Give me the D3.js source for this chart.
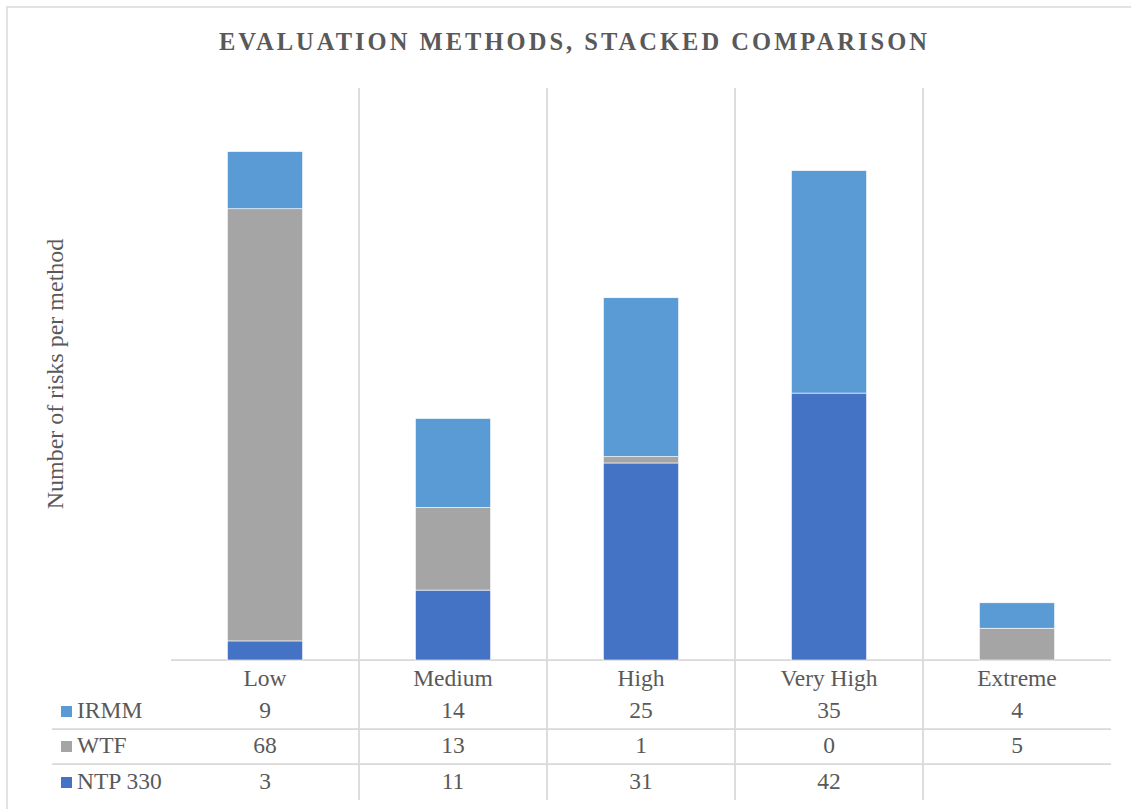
<!DOCTYPE html>
<html>
<head>
<meta charset="utf-8">
<script src="https://cdn.jsdelivr.net/npm/d3@7"></script>
<style>
  html, body { margin: 0; padding: 0; background: #fff; }
  svg { display: block; }
  svg text { font-family: 'Liberation Serif', 'Times New Roman', Times, 'DejaVu Serif', serif; fill: #595959; }
</style>
</head>
<body>
<svg id="chart" width="1131" height="809"></svg>
<script>
// Risk levels and the number of risks each evaluation method assigns to them
const categories = ["Low", "Medium", "High", "Very High", "Extreme"];
const seriesNames = ["NTP 330", "WTF", "IRMM"];          // stacking order, bottom to top
const ntp330 = [3, 11, 31, 42, null];
const wtf    = [68, 13, 1, 0, 5];
const irmm   = [9, 14, 25, 35, 4];
const tableRows = ["IRMM", "WTF", "NTP 330"];             // data-table order, top to bottom
const colors = { "IRMM": "#5B9BD5", "WTF": "#A5A5A5", "NTP 330": "#4472C4" };

const valuesBySeries = { "NTP 330": ntp330, "WTF": wtf, "IRMM": irmm };
const rows = categories.map((c, i) => {
  const r = { category: c };
  seriesNames.forEach(s => { r[s] = valuesBySeries[s][i] == null ? 0 : valuesBySeries[s][i]; });
  return r;
});

const FONT = "'Liberation Serif', 'Times New Roman', Times, 'DejaVu Serif', serif";
const FS = 23.5;
const svg = d3.select("#chart");
const W = 1131, H = 809;

// chart area frame
svg.append("rect")
  .attr("x", 7).attr("y", 7).attr("width", W + 10).attr("height", H + 10)
  .attr("fill", "#fff").attr("stroke", "#d9d9d9").attr("stroke-width", 1.5);

const plot = { left: 171, right: 1111, top: 88, bottom: 660 };
const tableLeft = 52;
const rowBase = [718, 753, 789];    // text baselines of the table rows
const rowLines = [729, 764];
const tableBottom = 800;

const x = d3.scaleBand()
  .domain(categories)
  .range([plot.left, plot.right])
  .paddingInner(0.6)
  .paddingOuter(0.3);
const step = x.step();

const y = d3.scaleLinear().domain([0, 90]).range([plot.bottom, plot.top]);

// vertical separators between categories, running through the data table
const bounds = categories.slice(1).map(c => x(c) - step * 0.3);
svg.append("g").selectAll("line").data(bounds).join("line")
  .attr("x1", d => d).attr("x2", d => d)
  .attr("y1", plot.top).attr("y2", tableBottom)
  .attr("stroke", "#d9d9d9").attr("stroke-width", 1.75);

// horizontal lines: axis baseline and table row rules
svg.append("line")
  .attr("x1", plot.left).attr("x2", plot.right)
  .attr("y1", plot.bottom).attr("y2", plot.bottom)
  .attr("stroke", "#d9d9d9").attr("stroke-width", 1.75);
svg.append("g").selectAll("line").data(rowLines).join("line")
  .attr("x1", tableLeft).attr("x2", plot.right)
  .attr("y1", d => d).attr("y2", d => d)
  .attr("stroke", "#d9d9d9").attr("stroke-width", 1.75);

// stacked bars
const stack = d3.stack().keys(seriesNames)(rows);
svg.append("g").selectAll("g").data(stack).join("g")
  .attr("fill", d => colors[d.key])
  .selectAll("rect").data(d => d.filter(p => p[1] - p[0] > 0)).join("rect")
  .attr("x", d => x(d.data.category))
  .attr("width", x.bandwidth())
  .attr("y", d => y(d[1]))
  .attr("height", d => y(d[0]) - y(d[1]))
  .attr("stroke", "#fff").attr("stroke-width", 0.6);

const txt = (sel) => sel.attr("font-family", FONT).attr("fill", "#595959");

// title
svg.append("text").call(txt)
  .attr("x", 573).attr("y", 50)
  .attr("text-anchor", "middle")
  .attr("font-size", 24.5).attr("font-weight", "bold")
  .attr("textLength", 708).attr("lengthAdjust", "spacing")
  .text("EVALUATION METHODS, STACKED COMPARISON");

// y-axis title
svg.append("text").call(txt)
  .attr("transform", "translate(63,374) rotate(-90)")
  .attr("text-anchor", "middle")
  .attr("font-size", 24)
  .text("Number of risks per method");

// category labels
svg.append("g").selectAll("text").data(categories).join("text").call(txt)
  .attr("x", d => x(d) + x.bandwidth() / 2)
  .attr("y", 686)
  .attr("text-anchor", "middle")
  .attr("font-size", FS)
  .text(d => d);

// data table
tableRows.forEach((name, r) => {
  const base = rowBase[r];
  svg.append("rect")
    .attr("x", 61).attr("y", base - 12).attr("width", 11).attr("height", 11)
    .attr("fill", colors[name]);
  svg.append("text").call(txt)
    .attr("x", 77).attr("y", base)
    .attr("font-size", FS)
    .text(name);
  svg.append("g").selectAll("text").data(valuesBySeries[name].map((v, i) => ({ v, c: categories[i] })).filter(d => d.v != null))
    .join("text").call(txt)
    .attr("x", d => x(d.c) + x.bandwidth() / 2)
    .attr("y", base)
    .attr("text-anchor", "middle")
    .attr("font-size", FS)
    .text(d => d.v);
});
</script>
</body>
</html>
